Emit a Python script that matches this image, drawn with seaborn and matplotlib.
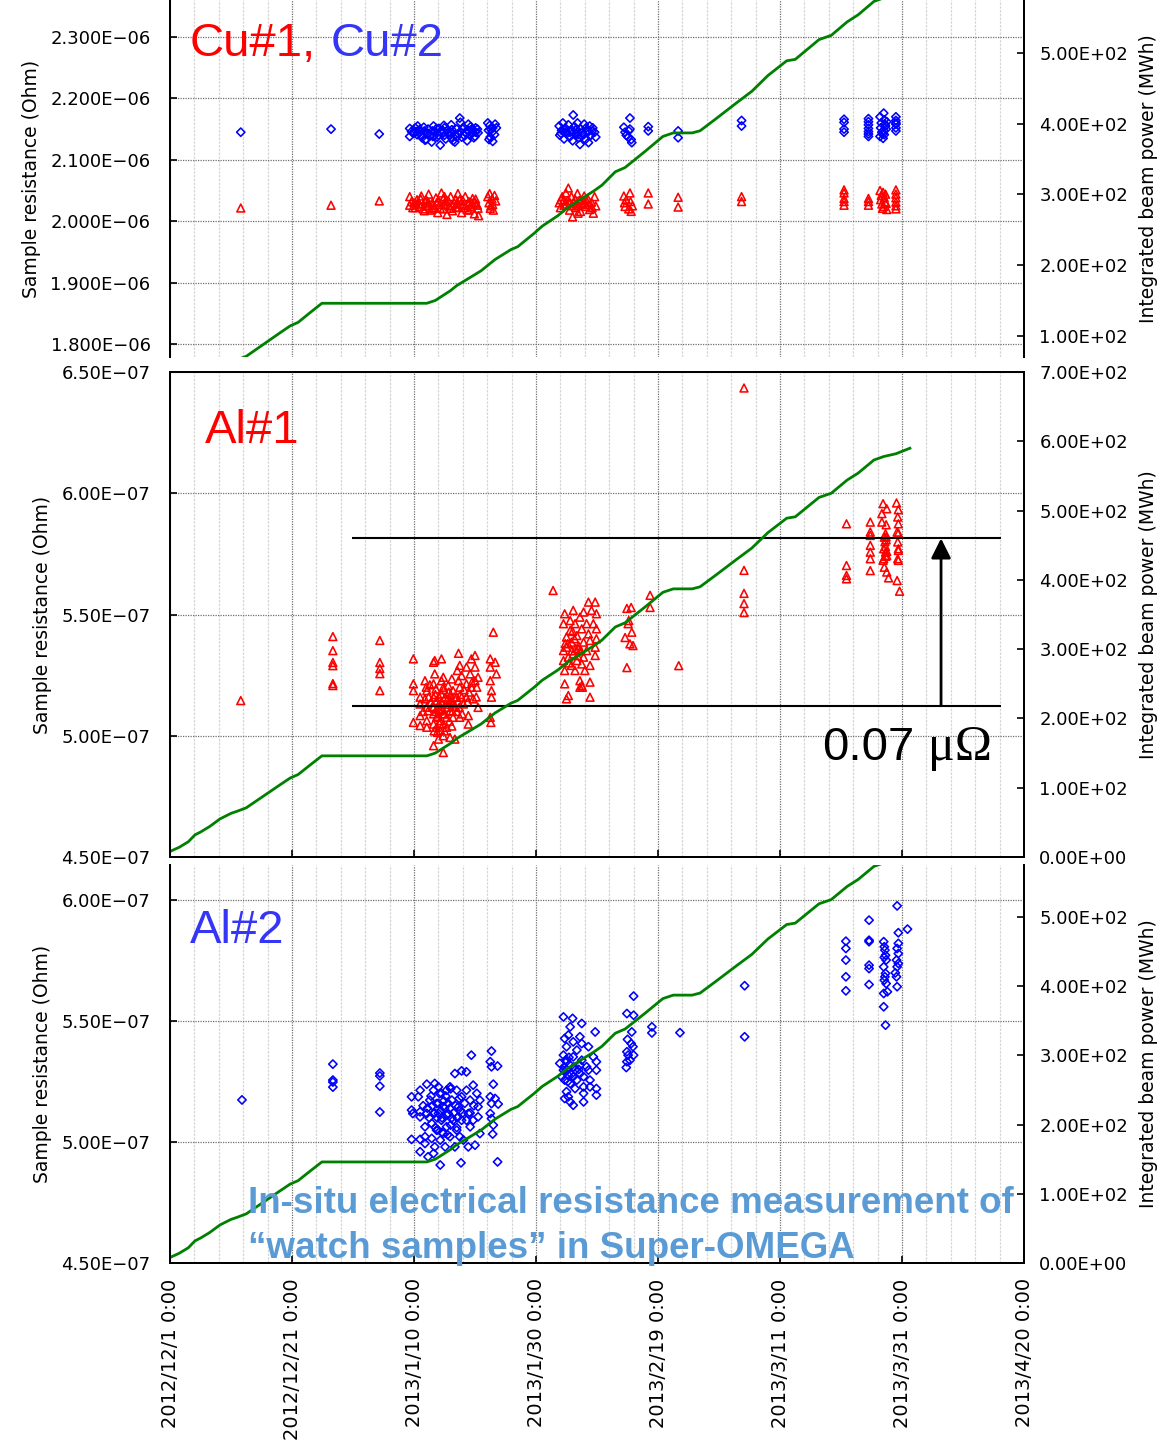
import numpy as np
import pandas as pd
import matplotlib
matplotlib.use("Agg")
import matplotlib.pyplot as plt
from matplotlib.ticker import FuncFormatter
import seaborn as sns

# ------------------------------------------------------------------ data
start_date = "2012-12-01"
x_tick_days = [0, 20, 40, 60, 80, 100, 120, 140]
x_tick_labels = ["2012/12/1 0:00", "2012/12/21 0:00", "2013/1/10 0:00", "2013/1/30 0:00",
                 "2013/2/19 0:00", "2013/3/11 0:00", "2013/3/31 0:00", "2013/4/20 0:00"]

# integrated beam power (MWh) vs days since 2012/12/1
beam_day = [0, 1.5, 3, 4.1, 5, 6.5, 8.2, 10, 11, 12.5, 14, 16, 18, 19.7, 21, 23, 24.9, 42.1, 43.5, 46,
            47, 49.3, 51, 53.3, 55.9, 57, 59.7, 61, 63.6, 65, 67.5, 69.5, 70.8, 73, 74.6, 77.9, 80.8,
            82.5, 85.6, 86.9, 89.5, 92.8, 95.4, 98, 101.1, 102.5, 106.4, 108.4, 111, 112.8, 115.4,
            117, 119, 121.3]
beam_mwh = [8, 14, 22, 32, 36, 44, 55, 63, 66, 71, 80, 92, 104, 114, 119, 133, 146, 146, 150, 164,
            171, 183, 192, 208, 222, 226, 245, 255, 270, 280, 294, 305, 313, 332, 338, 361, 382,
            387, 387, 390, 407, 429, 446, 468, 489, 491, 519, 525, 544, 554, 573,
            578, 582, 590]

# Cu samples: (day, resistance in 1e-6 Ohm)
cu1_points = [
    (11.6, 2.0215), (26.4, 2.026), (34.3, 2.033),
    (39.3, 2.040), (39.3, 2.026), (39.6, 2.032), (40.2, 2.022), (40.5, 2.035), (40.9, 2.028), (41.2, 2.041),
    (41.5, 2.020), (41.8, 2.033), (42.1, 2.025), (42.4, 2.044), (42.7, 2.018), (43.0, 2.030), (43.3, 2.022),
    (43.6, 2.038), (43.9, 2.014), (44.2, 2.027), (44.5, 2.046), (44.8, 2.020), (45.1, 2.032), (45.4, 2.011),
    (45.7, 2.025), (46.0, 2.040), (46.3, 2.017), (46.6, 2.030), (46.9, 2.022), (47.2, 2.045), (47.5, 2.035),
    (47.8, 2.014), (48.1, 2.026), (48.4, 2.040), (48.7, 2.019), (49.0, 2.032), (49.3, 2.024), (49.6, 2.037),
    (49.9, 2.012), (50.2, 2.028), (50.5, 2.021), (50.6, 2.009), (40.0, 2.030), (41.0, 2.024), (42.0, 2.035),
    (43.0, 2.020), (44.0, 2.033), (45.0, 2.027), (46.0, 2.021), (47.0, 2.029), (48.0, 2.034), (49.0, 2.018),
    (50.0, 2.031), (42.5, 2.028), (44.8, 2.037), (47.3, 2.023),
    (39.8, 2.022), (40.4, 2.028), (41.1, 2.036), (41.7, 2.017), (42.3, 2.031), (43.1, 2.026), (43.7, 2.030),
    (44.3, 2.021), (45.0, 2.040), (45.6, 2.034), (46.2, 2.026), (46.8, 2.036), (47.6, 2.028), (48.3, 2.022),
    (48.9, 2.027), (49.5, 2.030), (50.1, 2.036), (50.4, 2.026),
    (52.1, 2.040), (52.4, 2.045), (52.8, 2.036), (53.2, 2.042), (52.3, 2.030), (52.9, 2.027), (53.4, 2.033),
    (52.5, 2.021), (53.0, 2.018), (52.6, 2.025),
    (63.8, 2.030), (64.0, 2.022), (64.3, 2.040), (64.6, 2.026), (64.9, 2.046), (65.2, 2.034), (65.3, 2.054),
    (65.5, 2.018), (65.8, 2.040), (66.0, 2.007), (66.2, 2.030), (66.5, 2.022), (66.8, 2.045), (67.1, 2.034),
    (67.3, 2.016), (67.6, 2.028), (67.9, 2.041), (68.2, 2.024), (68.5, 2.036), (68.8, 2.019), (69.1, 2.031),
    (69.4, 2.013), (69.6, 2.040), (69.8, 2.025), (65.0, 2.028), (66.4, 2.036), (67.0, 2.025), (68.0, 2.030),
    (64.5, 2.033), (66.9, 2.013), (65.9, 2.025), (65.6, 2.030), (66.6, 2.028), (67.8, 2.033), (68.6, 2.027),
    (64.1, 2.035), (69.2, 2.022),
    (74.4, 2.041), (74.5, 2.030), (74.6, 2.024), (74.8, 2.035), (75.2, 2.020), (75.4, 2.046), (75.5, 2.032),
    (75.6, 2.016), (75.8, 2.025),
    (78.4, 2.046), (78.4, 2.028), (83.3, 2.039), (83.3, 2.023), (93.7, 2.040), (93.7, 2.032),
    (110.5, 2.051), (110.5, 2.046), (110.5, 2.037), (110.5, 2.032), (110.5, 2.026),
    (114.5, 2.037), (114.5, 2.032), (114.5, 2.026),
    (116.4, 2.050), (116.6, 2.042), (116.5, 2.035), (116.7, 2.028), (116.8, 2.021), (116.9, 2.047),
    (117.1, 2.038), (117.2, 2.031), (117.0, 2.024), (117.3, 2.044), (117.4, 2.029), (117.5, 2.019),
    (119.0, 2.051), (119.0, 2.044), (119.0, 2.038), (119.0, 2.031), (119.0, 2.025), (119.0, 2.020),
]
cu2_points = [
    (11.6, 2.145), (26.4, 2.150), (34.3, 2.142),
    (39.3, 2.151), (39.3, 2.138), (39.6, 2.146), (40.2, 2.152), (40.5, 2.141), (40.9, 2.149), (41.3, 2.136),
    (41.6, 2.153), (42.0, 2.144), (42.3, 2.150), (42.6, 2.139), (42.9, 2.129), (43.2, 2.155), (43.5, 2.146),
    (43.8, 2.137), (44.1, 2.151), (44.3, 2.124), (44.6, 2.143), (44.9, 2.156), (45.2, 2.134), (45.5, 2.148),
    (45.8, 2.140), (46.1, 2.157), (46.4, 2.131), (46.7, 2.129), (47.0, 2.150), (47.3, 2.142), (47.5, 2.168),
    (47.8, 2.137), (48.1, 2.153), (48.4, 2.145), (48.7, 2.131), (48.9, 2.158), (49.2, 2.140), (49.5, 2.149),
    (49.8, 2.136), (50.1, 2.152), (50.5, 2.144), (40.0, 2.143), (41.0, 2.145), (42.0, 2.133), (43.0, 2.147),
    (44.0, 2.140), (45.0, 2.152), (46.0, 2.144), (47.0, 2.137), (48.0, 2.150), (49.0, 2.146), (50.0, 2.138),
    (40.6, 2.155), (41.8, 2.132), (43.3, 2.139), (44.7, 2.148), (46.2, 2.135), (47.6, 2.161), (49.3, 2.154),
    (39.8, 2.144), (40.4, 2.146), (41.1, 2.141), (41.7, 2.147), (42.3, 2.143), (43.1, 2.138), (43.7, 2.151),
    (44.3, 2.146), (45.0, 2.140), (45.6, 2.144), (46.2, 2.149), (46.8, 2.141), (47.6, 2.146), (48.3, 2.139),
    (48.9, 2.148), (49.5, 2.143), (50.1, 2.145), (50.4, 2.150),
    (52.1, 2.160), (52.4, 2.156), (52.9, 2.152), (53.3, 2.158), (52.2, 2.148), (52.8, 2.145), (53.2, 2.141),
    (52.5, 2.137), (52.3, 2.133), (52.9, 2.130), (52.6, 2.150), (53.5, 2.152),
    (63.8, 2.155), (63.9, 2.140), (64.2, 2.148), (64.4, 2.160), (64.6, 2.134), (64.9, 2.151), (65.1, 2.143),
    (65.3, 2.157), (65.5, 2.137), (65.8, 2.149), (66.1, 2.173), (66.0, 2.131), (66.3, 2.154), (66.6, 2.142),
    (66.8, 2.160), (67.0, 2.136), (67.2, 2.125), (67.3, 2.150), (67.6, 2.144), (67.9, 2.158), (68.1, 2.133),
    (68.4, 2.147), (68.6, 2.128), (68.8, 2.155), (69.0, 2.140), (69.3, 2.152), (69.6, 2.145), (69.8, 2.137),
    (65.0, 2.146), (66.5, 2.148), (67.5, 2.139), (68.2, 2.152), (64.7, 2.145), (66.9, 2.141),
    (65.6, 2.145), (66.6, 2.150), (67.8, 2.141), (68.6, 2.146), (64.1, 2.143), (69.2, 2.147),
    (74.4, 2.153), (74.6, 2.145), (74.8, 2.140), (75.1, 2.137), (75.4, 2.150), (75.6, 2.133), (75.7, 2.128),
    (75.2, 2.147), (75.4, 2.168),
    (78.4, 2.154), (78.4, 2.147), (83.3, 2.147), (83.3, 2.136), (93.7, 2.164), (93.7, 2.155),
    (110.5, 2.166), (110.5, 2.161), (110.5, 2.150), (110.5, 2.145),
    (114.5, 2.167), (114.5, 2.162), (114.5, 2.157), (114.5, 2.151), (114.5, 2.146), (114.5, 2.142), (114.5, 2.138),
    (116.4, 2.170), (116.6, 2.160), (116.5, 2.152), (116.7, 2.145), (116.4, 2.138), (116.8, 2.142),
    (117.0, 2.176), (117.1, 2.165), (117.3, 2.155), (117.0, 2.148), (117.2, 2.158), (117.4, 2.150),
    (117.1, 2.141), (117.5, 2.162), (116.9, 2.135),
    (119.0, 2.170), (119.0, 2.164), (119.0, 2.158), (119.0, 2.152), (119.0, 2.147), (119.0, 2.160),
]

# Al samples: (day, resistance in 1e-7 Ohm)
al1_points = [
    (11.6, 5.145), (26.7, 5.409), (26.7, 5.351), (26.7, 5.302), (26.7, 5.289), (26.7, 5.215), (26.7, 5.207),
    (34.4, 5.393), (34.4, 5.302), (34.4, 5.277), (34.4, 5.256), (34.4, 5.186),
    (39.9, 5.317), (39.9, 5.214), (39.9, 5.186), (39.9, 5.055), (41.0, 5.159), (41.0, 5.131), (41.0, 5.083),
    (41.0, 5.042), (41.8, 5.227), (41.8, 5.152), (42.1, 5.186), (42.1, 5.117), (42.1, 5.062), (42.1, 5.035),
    (42.3, 5.103), (43.2, 5.303), (43.2, 5.214), (43.2, 5.159), (43.2, 5.117), (43.2, 5.090), (43.2, 5.048),
    (43.2, 4.959), (43.4, 5.310), (43.4, 5.255), (43.6, 5.193), (43.7, 5.145), (43.7, 5.076), (43.7, 5.035),
    (43.8, 5.014), (44.0, 4.986), (44.1, 5.131), (44.3, 5.103), (44.3, 5.062), (44.3, 5.021), (44.5, 5.317),
    (44.5, 5.227), (44.5, 5.172), (44.5, 5.138), (44.8, 5.241), (44.8, 5.200), (44.8, 5.090), (44.8, 5.048),
    (44.8, 5.000), (44.8, 4.931), (45.1, 5.159), (45.35, 5.117), (45.35, 5.076), (45.35, 5.035), (45.6, 5.207),
    (45.9, 5.145), (45.9, 5.103), (45.9, 4.993), (46.2, 5.234), (46.4, 5.186), (46.4, 5.131), (46.4, 5.076),
    (46.7, 4.986), (47.0, 5.159), (47.1, 5.269), (47.3, 5.340), (47.3, 5.227), (47.4, 5.117), (47.5, 5.290),
    (47.5, 5.200), (47.5, 5.076), (47.8, 5.248), (47.8, 5.159), (48.1, 5.131), (48.6, 5.283), (48.6, 5.214),
    (48.6, 5.159), (48.9, 5.083), (48.9, 5.048), (49.2, 5.255), (49.4, 5.317), (49.4, 5.200), (49.7, 5.152),
    (50.0, 5.331), (50.0, 5.283), (50.0, 5.227), (50.3, 5.200), (50.5, 5.117), (50.5, 5.241),
    (52.5, 5.317), (52.5, 5.283), (52.5, 5.227), (52.7, 5.186), (52.7, 5.159), (53.0, 5.427), (53.3, 5.303),
    (53.5, 5.255), (52.6, 5.055), (52.5, 5.076),
    (44.0, 5.11), (44.6, 5.13), (45.0, 5.09), (45.5, 5.15), (46.0, 5.17), (46.8, 5.12), (43.5, 5.17),
    (42.8, 5.14), (44.2, 5.05), (45.8, 5.06), (47.2, 5.14), (43.9, 5.08), (42.6, 5.21), (44.9, 5.19),
    (46.3, 5.10), (47.9, 5.09), (49.0, 5.18),
    (42.4, 5.16), (43.0, 5.12), (43.6, 5.10), (44.1, 5.16), (44.7, 5.11), (45.2, 5.13), (45.7, 5.18),
    (46.1, 5.14), (46.6, 5.16), (47.0, 5.10), (47.6, 5.17), (48.2, 5.19), (48.8, 5.14), (49.5, 5.22),
    (50.2, 5.16), (43.3, 5.02), (45.0, 5.02), (46.2, 5.04), (41.5, 5.10), (42.0, 5.20),
    (62.8, 5.599), (64.5, 5.351), (64.5, 5.310), (64.7, 5.269), (64.7, 5.214), (64.5, 5.462), (64.7, 5.503),
    (65.0, 5.152), (65.3, 5.166), (65.0, 5.407), (65.0, 5.365), (65.3, 5.324), (65.6, 5.434), (65.6, 5.475),
    (65.8, 5.386), (65.8, 5.290), (66.1, 5.517), (66.1, 5.338), (66.4, 5.269), (66.4, 5.462), (66.7, 5.413),
    (66.7, 5.310), (66.9, 5.358), (67.2, 5.489), (67.2, 5.227), (67.5, 5.207), (67.5, 5.441), (67.5, 5.296),
    (67.8, 5.510), (67.8, 5.386), (67.8, 5.324), (68.0, 5.269), (68.3, 5.462), (68.3, 5.351), (68.6, 5.551),
    (68.6, 5.420), (68.85, 5.393), (68.85, 5.290), (68.85, 5.221), (68.85, 5.159), (69.1, 5.517),
    (69.4, 5.462), (69.7, 5.551), (69.7, 5.365), (69.7, 5.331), (69.9, 5.503), (69.9, 5.400), (69.9, 5.441),
    (67.2, 5.200), (67.6, 5.200), (65.2, 5.38), (65.9, 5.35), (66.3, 5.40), (66.8, 5.33), (67.0, 5.37),
    (65.4, 5.30), (66.0, 5.43), (67.3, 5.35), (64.8, 5.38), (66.5, 5.36),
    (74.9, 5.525), (75.6, 5.529), (75.2, 5.475), (74.6, 5.405), (75.9, 5.372), (74.9, 5.281), (75.7, 5.427),
    (75.1, 5.462), (75.4, 5.379), (78.7, 5.579), (78.7, 5.529), (83.4, 5.289),
    (94.1, 6.434), (94.1, 5.682), (94.1, 5.587), (94.1, 5.545), (94.1, 5.508),
    (110.9, 5.874), (110.9, 5.702), (110.9, 5.661), (110.9, 5.647),
    (114.8, 5.881), (114.8, 5.840), (114.8, 5.826), (114.8, 5.785), (114.8, 5.757), (114.8, 5.730), (114.8, 5.681),
    (116.9, 5.957), (117.5, 5.936), (116.7, 5.916), (116.7, 5.881), (117.4, 5.870), (117.3, 5.833),
    (117.1, 5.819), (117.4, 5.808), (117.0, 5.771), (117.3, 5.757), (117.5, 5.743), (116.9, 5.723),
    (117.1, 5.695), (117.5, 5.675), (117.8, 5.651), (117.3, 5.78), (117.5, 5.76), (117.3, 5.74),
    (117.0, 5.73), (117.2, 5.80), (117.4, 5.82),
    (119.1, 5.960), (119.4, 5.932), (119.3, 5.902), (119.4, 5.874), (119.2, 5.840), (119.4, 5.836),
    (119.3, 5.799), (119.4, 5.771), (119.4, 5.764), (119.3, 5.730), (119.4, 5.723), (119.2, 5.640),
    (119.6, 5.596),
]
al2_points = [
    (11.8, 5.174), (26.7, 5.322), (26.7, 5.256), (26.7, 5.248), (26.7, 5.227),
    (34.4, 5.285), (34.4, 5.273), (34.4, 5.231), (34.4, 5.124),
    (39.6, 5.187), (39.6, 5.132), (39.8, 5.118), (39.6, 5.011), (40.7, 5.187), (41.0, 5.214), (41.0, 5.125),
    (41.0, 5.104), (41.0, 5.011), (41.0, 4.960), (41.8, 5.063), (41.8, 5.022), (41.8, 4.994), (42.1, 5.239),
    (42.1, 5.118), (42.3, 4.939), (42.6, 5.173), (42.9, 5.077), (42.9, 5.015), (43.2, 5.214), (43.2, 5.118),
    (43.2, 4.953), (43.4, 5.242), (43.4, 4.980), (43.7, 5.159), (43.7, 5.049), (44.0, 5.228), (44.0, 5.118),
    (44.3, 5.008), (44.3, 4.905), (44.5, 5.201), (44.5, 5.090), (44.8, 5.146), (44.8, 5.035), (45.1, 4.980),
    (45.35, 5.214), (45.35, 5.063), (45.6, 5.118), (45.9, 5.228), (45.9, 5.022), (46.2, 5.173), (46.4, 5.090),
    (46.7, 4.980), (46.7, 5.283), (47.0, 5.214), (47.0, 5.049), (47.3, 5.146), (47.5, 5.022), (47.7, 4.914),
    (47.8, 5.294), (47.8, 5.187), (47.8, 5.090), (48.1, 5.008), (48.6, 5.290), (48.6, 5.214), (48.9, 5.118),
    (48.9, 4.980), (49.2, 5.173), (49.2, 5.063), (49.4, 5.359), (49.7, 5.235), (49.7, 5.090), (50.0, 4.987),
    (50.3, 5.201), (50.5, 5.146), (50.5, 5.104), (50.8, 5.035), (50.8, 5.173),
    (52.7, 5.376), (52.5, 5.332), (52.7, 5.311), (53.7, 5.314), (53.0, 5.239), (52.5, 5.187), (52.7, 5.159),
    (53.3, 5.180), (53.8, 5.157), (52.5, 5.118), (52.7, 5.097), (53.0, 5.070), (52.9, 5.033), (53.7, 4.918),
    (43.0, 5.15), (43.8, 5.10), (44.4, 5.13), (44.9, 5.17), (45.4, 5.11), (45.9, 5.14), (46.5, 5.12),
    (47.1, 5.10), (43.5, 5.06), (44.6, 5.04), (46.0, 5.07), (47.6, 5.13), (42.5, 5.10), (48.3, 5.16),
    (45.2, 5.19),
    (42.2, 5.14), (42.8, 5.19), (43.4, 5.12), (44.0, 5.16), (44.6, 5.10), (45.0, 5.14), (45.6, 5.16),
    (46.2, 5.10), (46.8, 5.15), (47.4, 5.18), (48.0, 5.12), (48.6, 5.09), (49.2, 5.12), (49.8, 5.15),
    (43.9, 5.05), (45.5, 5.03), (47.0, 5.06), (44.2, 5.20), (41.5, 5.15), (46.0, 5.22),
    (64.5, 5.517), (66.0, 5.511), (65.6, 5.476), (67.5, 5.490), (69.7, 5.455), (64.7, 5.428), (65.3, 5.442),
    (66.1, 5.414), (67.2, 5.435), (65.0, 5.394), (66.7, 5.380), (67.5, 5.407), (68.6, 5.394), (64.5, 5.359),
    (65.0, 5.332), (66.1, 5.352), (67.5, 5.338), (68.3, 5.311), (69.4, 5.352), (69.9, 5.332), (64.5, 5.297),
    (65.3, 5.276), (66.4, 5.297), (67.2, 5.318), (68.6, 5.297), (69.9, 5.297), (64.7, 5.256), (65.6, 5.242),
    (66.7, 5.256), (67.8, 5.270), (68.85, 5.256), (65.0, 5.208), (66.4, 5.221), (67.8, 5.228), (68.85, 5.228),
    (69.9, 5.221), (64.7, 5.180), (65.3, 5.187), (67.8, 5.201), (69.9, 5.194), (65.6, 5.166), (66.1, 5.152),
    (67.8, 5.166), (63.9, 5.325), (64.2, 5.270), (66.1, 5.270), (67.2, 5.283),
    (65.0, 5.30), (65.5, 5.32), (64.8, 5.29), (65.2, 5.25), (64.6, 5.31), (66.2, 5.31), (67.0, 5.30),
    (65.8, 5.28), (64.9, 5.34), (65.4, 5.35),
    (74.9, 5.531), (76.0, 5.524), (75.0, 5.424), (75.6, 5.407), (75.7, 5.455), (75.9, 5.394), (74.9, 5.373),
    (74.9, 5.332), (75.1, 5.359), (76.0, 5.359), (74.8, 5.308), (75.4, 5.338), (79.0, 5.476), (79.0, 5.451),
    (76.0, 5.603), (83.6, 5.452), (94.2, 5.646), (94.2, 5.435),
    (110.8, 5.830), (110.8, 5.800), (110.8, 5.752), (110.8, 5.683), (110.8, 5.625),
    (114.6, 5.917), (114.6, 5.834), (114.6, 5.828), (114.6, 5.731), (114.6, 5.717), (114.6, 5.651),
    (117.0, 5.828), (117.1, 5.807), (117.2, 5.793), (117.3, 5.772), (117.1, 5.763), (117.4, 5.752),
    (117.0, 5.724), (117.3, 5.697), (117.2, 5.683), (117.1, 5.669), (117.4, 5.655), (117.0, 5.614),
    (117.6, 5.621), (117.0, 5.559), (117.3, 5.483),
    (119.2, 5.976), (119.4, 5.865), (119.4, 5.821), (119.2, 5.800), (119.4, 5.779), (119.1, 5.752),
    (119.4, 5.738), (119.2, 5.724), (118.9, 5.699), (119.1, 5.683), (119.2, 5.642), (120.9, 5.880),
]

# Al#1 before/after levels (1e-7 Ohm) for the 0.07 micro-ohm bracket
al1_level_before = 5.124
al1_level_after = 5.814
al1_bracket_days = (29.8, 136.2)
al1_arrow_day = 126.4

# ------------------------------------------------------------------ style
plt.rcParams["font.family"] = ["DejaVu Sans"]
plt.rcParams["axes.linewidth"] = 1.4
W, H = 1174, 1440
fig = plt.figure(figsize=(W / 100, H / 100), dpi=100)
start = pd.Timestamp(start_date)


def to_dates(days):
    return start + pd.to_timedelta(np.asarray(days, dtype=float), unit="D")


def px_axes(left, top, right, bottom):
    return fig.add_axes([left / W, 1 - bottom / H, (right - left) / W, (bottom - top) / H])


def sci(fmt):
    return FuncFormatter(lambda v, p: fmt.format(v).replace("-", "\u2212"))


RED, BLUE, GREEN = "#ff0000", "#0000ff", "#008000"


def scatter(ax, pts, scale, marker, color, s):
    d, v = zip(*pts)
    sns.scatterplot(x=to_dates(d), y=np.asarray(v) * scale, ax=ax, marker=marker, s=s,
                    color=color, edgecolor=color, linewidth=1.15, legend=False, zorder=3)
    coll = ax.collections[-1]
    coll.set_facecolor("none")
    coll.set_edgecolor(color)


def setup(ax, ax2, ylim, yticks, yfmt, y2lim, y2ticks):
    ax.set_ylim(*ylim)
    ax.set_yticks(yticks)
    ax.yaxis.set_major_formatter(sci(yfmt))
    ax2.set_ylim(*y2lim)
    ax2.set_yticks(y2ticks)
    ax2.yaxis.set_major_formatter(sci("{:.2E}"))
    ax.set_xlim(start, start + pd.Timedelta(days=140))
    ax.set_xticks(to_dates(x_tick_days))
    ax.set_xticks(to_dates(np.arange(0, 141, 4)), minor=True)
    ax.set_axisbelow(True)
    ax.grid(True, which="major", color="#707070", ls=(0, (1, 1)), lw=0.9)
    ax.grid(True, which="minor", axis="x", color="#d6d6d6", ls=(0, (2, 1)), lw=0.9)
    ax2.grid(False)
    ax.tick_params(axis="y", direction="in", length=5, width=1.2, labelsize=13, pad=14)
    ax2.tick_params(axis="y", direction="in", length=5, width=1.2, labelsize=13, pad=11)
    ax.tick_params(axis="x", which="minor", length=0)
    ax.tick_params(axis="x", which="major", direction="in", length=5, width=1.2)
    ax.set_xlabel("")
    ax2.set_xlabel("")
    ax.set_ylabel("Sample resistance (Ohm)", fontsize=13.5, labelpad=7)
    ax2.set_ylabel("Integrated beam power (MWh)", fontsize=13.5, labelpad=8)
    for a in (ax, ax2):
        for sp in a.spines.values():
            sp.set_color("black")
            sp.set_linewidth(1.4)


def beam(ax2):
    sns.lineplot(x=to_dates(beam_day), y=beam_mwh, ax=ax2, color=GREEN, lw=2.0,
                 estimator=None, sort=False, legend=False)


# ------------------------------------------------------------------ top: Cu
ax_top = px_axes(170, 0, 1024, 357)
scatter(ax_top, cu1_points, 1e-6, "^", RED, 32)
scatter(ax_top, cu2_points, 1e-6, "D", BLUE, 18)
ax_top2 = ax_top.twinx()
beam(ax_top2)
setup(ax_top, ax_top2, (1.7788e-6, 2.3603e-6), np.arange(1.8, 2.31, 0.1) * 1e-6, "{:.3E}",
      (70, 575), [100, 200, 300, 400, 500])
ax_top.tick_params(axis="x", which="both", bottom=False, labelbottom=False)
for a in (ax_top, ax_top2):
    a.spines["top"].set_visible(False)
    a.spines["bottom"].set_visible(False)

# ------------------------------------------------------------------ middle: Al#1
ax_mid = px_axes(170, 372, 1024, 857)
scatter(ax_mid, al1_points, 1e-7, "^", RED, 32)
ax_mid2 = ax_mid.twinx()
beam(ax_mid2)
setup(ax_mid, ax_mid2, (4.5e-7, 6.5e-7), np.arange(4.5, 6.51, 0.5) * 1e-7, "{:.2E}",
      (0, 700), np.arange(0, 701, 100))
ax_mid.tick_params(axis="x", labelbottom=False)
d0, d1 = to_dates(al1_bracket_days)
ax_mid.hlines([al1_level_before * 1e-7, al1_level_after * 1e-7], d0, d1, color="black", lw=1.5, zorder=4)
xa = to_dates([al1_arrow_day])[0]
ax_mid.annotate("", xy=(xa, al1_level_after * 1e-7), xytext=(xa, al1_level_before * 1e-7),
                arrowprops=dict(arrowstyle="-|>,head_length=1.0,head_width=0.5", lw=2, color="black",
                                shrinkA=0, shrinkB=0, mutation_scale=12), zorder=5)

# ------------------------------------------------------------------ bottom: Al#2
ax_bot = px_axes(170, 865, 1024, 1263)
scatter(ax_bot, al2_points, 1e-7, "D", BLUE, 18)
ax_bot2 = ax_bot.twinx()
beam(ax_bot2)
setup(ax_bot, ax_bot2, (4.5e-7, 6.145e-7), np.arange(4.5, 6.01, 0.5) * 1e-7, "{:.2E}",
      (0, 575), np.arange(0, 501, 100))
ax_bot.set_xticklabels(x_tick_labels, rotation=90, va="top", ha="center", fontsize=14)
ax_bot.tick_params(axis="x", which="major", pad=11)
for a in (ax_bot, ax_bot2):
    a.spines["top"].set_visible(False)

# ------------------------------------------------------------------ texts
sans = ["Liberation Sans", "DejaVu Sans"]
fig.text(190 / W, 1 - 56 / H, "Cu#1,", color=RED, fontsize=34, family=sans, va="baseline")
fig.text(331 / W, 1 - 56 / H, "Cu#2", color="#3535f5", fontsize=34, family=sans, va="baseline")
fig.text(205 / W, 1 - 443 / H, "Al#1", color=RED, fontsize=34, family=sans, va="baseline")
fig.text(190 / W, 1 - 943 / H, "Al#2", color="#3535f5", fontsize=34, family=sans, va="baseline")
fig.text(822 / W, 1 - 760 / H, "0.07", color="black", fontsize=34, family=sans, va="baseline")
fig.text(928 / W, 1 - 760 / H, "\u03bc\u03a9", color="black", fontsize=36,
         family=["Liberation Serif", "DejaVu Serif"], va="baseline")
fig.text(248 / W, 1 - 1213 / H, "In-situ electrical resistance measurement of", color="#5b9bd5",
         fontsize=26.5, fontweight="bold", family=sans, va="baseline")
fig.text(248 / W, 1 - 1258 / H, "\u201cwatch samples\u201d in Super-OMEGA", color="#5b9bd5",
         fontsize=26.5, fontweight="bold", family=sans, va="baseline")

fig.savefig("out.png", dpi=100)
